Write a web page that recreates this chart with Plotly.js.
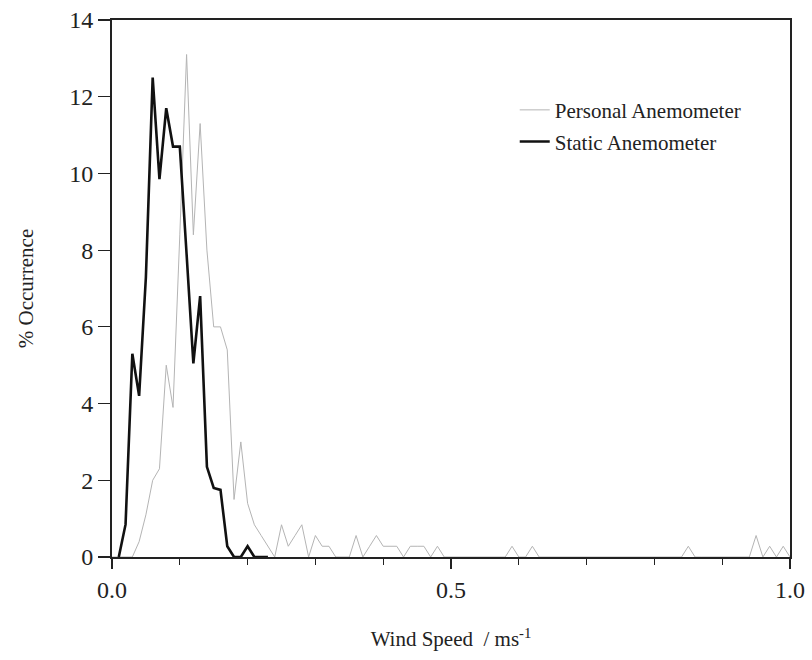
<!DOCTYPE html>
<html>
<head>
<meta charset="utf-8">
<script src="https://cdn.plot.ly/plotly-3.0.1.min.js"></script>
<style>html,body{margin:0;padding:0;background:#fff;}#chart{width:812px;height:660px;}</style>
</head>
<body>
<div id="chart"></div>
<script>
// Wind speed bins (m/s)
const windSpeed = [0.00,0.01,0.02,0.03,0.04,0.05,0.06,0.07,0.08,0.09,
  0.10,0.11,0.12,0.13,0.14,0.15,0.16,0.17,0.18,0.19,
  0.20,0.21,0.22,0.23,0.24,0.25,0.26,0.27,0.28,0.29,
  0.30,0.31,0.32,0.33,0.34,0.35,0.36,0.37,0.38,0.39,
  0.40,0.41,0.42,0.43,0.44,0.45,0.46,0.47,0.48,0.49,
  0.50,0.51,0.52,0.53,0.54,0.55,0.56,0.57,0.58,0.59,
  0.60,0.61,0.62,0.63,0.64,0.65,0.66,0.67,0.68,0.69,
  0.70,0.71,0.72,0.73,0.74,0.75,0.76,0.77,0.78,0.79,
  0.80,0.81,0.82,0.83,0.84,0.85,0.86,0.87,0.88,0.89,
  0.90,0.91,0.92,0.93,0.94,0.95,0.96,0.97,0.98,0.99,1.00];

// Personal anemometer % occurrence
const personal = [0,0,0,0,0.4,1.1,2.0,2.3,5.0,3.9,
  8.4,13.1,8.4,11.3,8.0,6.0,6.0,5.4,1.5,3.0,
  1.4,0.84,0.56,0.28,0,0.84,0.28,0.56,0.84,0,
  0.56,0.28,0.28,0,0,0,0.56,0,0.28,0.56,
  0.28,0.28,0.28,0,0.28,0.28,0.28,0,0.28,0,
  0,0,0,0,0,0,0,0,0,0.28,
  0,0,0.28,0,0,0,0,0,0,0,
  0,0,0,0,0,0,0,0,0,0,
  0,0,0,0,0,0.28,0,0,0,0,
  0,0,0,0,0,0.56,0,0.28,0,0.28,0];

// Static anemometer % occurrence (bins 0.01 - 0.23)
const staticX = [0.01,0.02,0.03,0.04,0.05,0.06,0.07,0.08,0.09,0.10,
  0.11,0.12,0.13,0.14,0.15,0.16,0.17,0.18,0.19,0.20,0.21,0.22,0.23];
const staticY = [0,0.85,5.3,4.2,7.3,12.5,9.85,11.7,10.7,10.7,
  7.9,5.05,6.8,2.35,1.8,1.75,0.28,0,0,0.28,0,0,0];

const xTickVals = [0, 0.5, 1.0];
const xTickText = ['0.0', '0.5', '1.0'];
const yTickVals = [0,2,4,6,8,10,12,14];

const serif = 'Liberation Serif, Times New Roman, serif';

const traces = [
  {x: windSpeed, y: personal, mode: 'lines', name: 'Personal Anemometer',
   line: {color: '#b4b4b4', width: 1}, legend: 'legend'},
  {x: staticX, y: staticY, mode: 'lines', name: 'Static Anemometer',
   line: {color: '#111', width: 2.6}, legend: 'legend2'}
];

const layout = {
  width: 812, height: 660,
  margin: {l: 112, r: 22, t: 20, b: 103},
  paper_bgcolor: '#fff', plot_bgcolor: '#fff',
  font: {family: serif, color: '#222', size: 17},
  showlegend: true,
  legend: {x: 0.594, y: 0.832, xanchor: 'left', yanchor: 'middle',
    bgcolor: 'rgba(0,0,0,0)', font: {family: serif, size: 21, color: '#222'}},
  legend2: {x: 0.594, y: 0.773, xanchor: 'left', yanchor: 'middle',
    bgcolor: 'rgba(0,0,0,0)', font: {family: serif, size: 21, color: '#222'}},
  xaxis: {
    range: [0, 1], showgrid: false, zeroline: false,
    showline: true, linecolor: '#222', linewidth: 2, mirror: true,
    ticks: 'outside', ticklen: 10, tickwidth: 1.5, tickcolor: '#222',
    tickvals: xTickVals, ticktext: xTickText,
    minor: {dtick: 0.1, tick0: 0, ticks: 'outside', ticklen: 6, tickwidth: 1.2, tickcolor: '#222', showgrid: false},
    tickfont: {family: serif, size: 24, color: '#222'},
    title: {text: 'Wind Speed  / ms<sup>-1</sup>', standoff: 30, font: {family: serif, size: 21, color: '#222'}}
  },
  yaxis: {
    range: [0, 14], showgrid: false, zeroline: false,
    showline: true, linecolor: '#222', linewidth: 2, mirror: true,
    ticks: 'outside', ticklen: 12, tickwidth: 1.2, tickcolor: '#222',
    tickvals: yTickVals,
    tickfont: {family: serif, size: 24, color: '#222'},
    title: {text: '% Occurrence', standoff: 30, font: {family: serif, size: 21, color: '#222'}}
  }
};

Plotly.newPlot('chart', traces, layout, {displayModeBar: false, staticPlot: true});
</script>
</body>
</html>
